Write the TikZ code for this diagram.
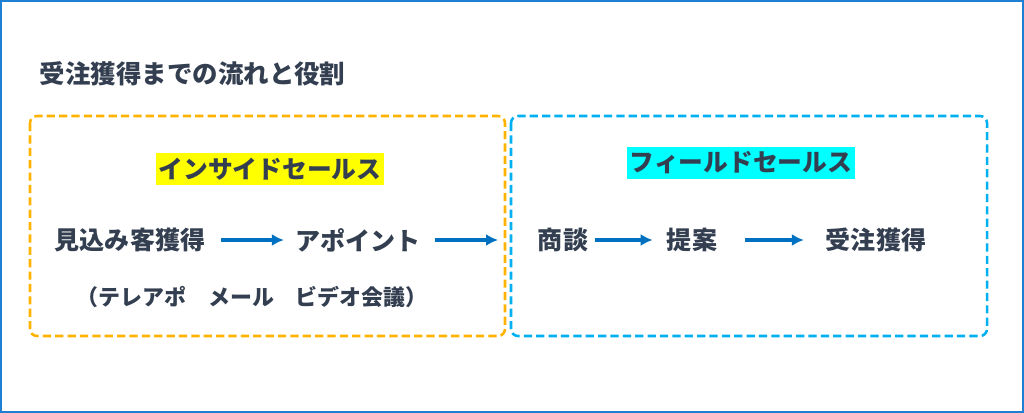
\documentclass[tikz,border=0pt]{standalone}
\usepackage{fontspec}
\setmainfont{Noto Sans CJK JP}
\usepackage{xcolor}
\usetikzlibrary{positioning, arrows.meta}
\definecolor{inkgray}{HTML}{333F50}
\definecolor{framblue}{HTML}{1F7FD2}
\definecolor{insideorange}{HTML}{FFB300}
\definecolor{fieldcyan}{HTML}{00B0F0}
\definecolor{arrowblue}{HTML}{0070C0}
\definecolor{markyellow}{HTML}{FFFF00}
\definecolor{markcyan}{HTML}{00FFFF}
\tikzset{
  stage/.style={inner sep=0pt, text=inkgray, font=\bfseries\fontsize{17.8}{20}\selectfont},
  rolelabel/.style={inner xsep=2pt, inner ysep=0pt, minimum height=22.8pt, text=inkgray,
    font=\bfseries\fontsize{17.6}{20}\selectfont},
  rolebox/.style={line width=1.8pt, dash pattern=on 5.8pt off 3pt, rounded corners=5pt},
  flow/.style={-{Latex[length=8.5pt,width=8.5pt]}, line width=2.8pt, arrowblue},
}
\begin{document}
\begin{tikzpicture}[x=0.025cm,y=-0.025cm]
  % Rahmen
  \useasboundingbox (0,0) rectangle (1024,413);
  \draw[framblue, line width=1.4pt] (1,1) rectangle (1023,412);

  % Titel
  \node[anchor=west, text=inkgray, font=\bfseries\fontsize{18.1}{20}\selectfont] (title) at (35,74) {受注獲得までの流れと役割};

  % Rollen
  \draw[rolebox, insideorange] (30,116) rectangle (505,336);
  \draw[rolebox, fieldcyan] (511,116) rectangle (987,336);
  \node[rolelabel, fill=markyellow] (inside) at (270,169) {インサイドセールス};
  \node[rolelabel, fill=markcyan] (field) at (741,163) {フィールドセールス};

  % Schritte
  \node[stage] (mikomi) at (130,240) {見込み客獲得};
  \node[stage] (apo) at (358,240) {アポイント};
  \node[stage] (shodan) at (563,240) {商談};
  \node[stage] (teian) at (692,240) {提案};
  \node[stage] (juchu) at (876,240) {受注獲得};
  \node[text=inkgray, font=\bfseries\fontsize{15.6}{18}\selectfont] (means) at (252,297) {（テレアポ　メール　ビデオ会議）};
  \coordinate (handover) at (498,240);

  % Pfeile
  \draw[flow, shorten <=11pt, shorten >=8pt] (mikomi) -- (apo);
  \draw[flow, shorten <=10pt] (apo) -- (handover);
  \draw[flow, shorten <=5pt, shorten >=10pt] (shodan) -- (teian);
  \draw[flow, shorten <=20pt, shorten >=15.5pt] (teian) -- (juchu);
\end{tikzpicture}
\end{document}
